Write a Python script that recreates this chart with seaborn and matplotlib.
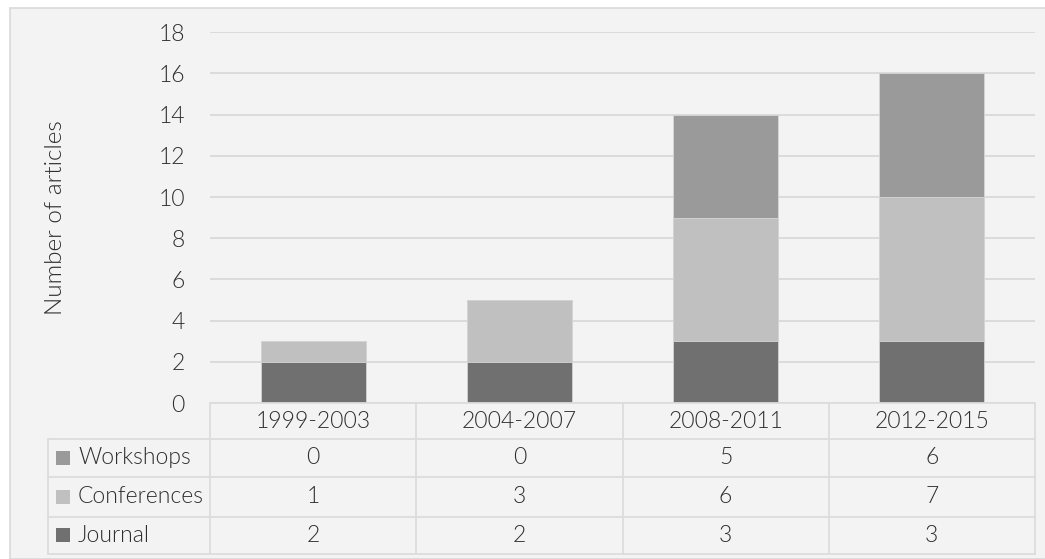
import numpy as np
import pandas as pd
import matplotlib
matplotlib.use('Agg')
import matplotlib.pyplot as plt
import seaborn as sns
from matplotlib.patches import Rectangle

# Data
periods = ['1999-2003', '2004-2007', '2008-2011', '2012-2015']
journal = [2, 2, 3, 3]
conferences = [1, 3, 6, 7]
workshops = [0, 0, 5, 6]
series = ['Workshops', 'Conferences', 'Journal']
colors = {'Workshops': '#9a9a9a', 'Conferences': '#c0c0c0', 'Journal': '#707070'}

df = pd.DataFrame({'period': periods, 'Journal': journal,
                   'Conferences': conferences, 'Workshops': workshops})
# cumulative heights for stacking
df['top_jc'] = df['Journal'] + df['Conferences']
df['top_all'] = df['top_jc'] + df['Workshops']

sns.set_style('white')
plt.rcParams['font.family'] = ['Lato', 'DejaVu Sans']
txt = '#2e2e2e'
fs = 16.5
fw = 300

W, H = 1045, 559
fig = plt.figure(figsize=(W / 100, H / 100), dpi=100, facecolor='white')
fig.patches.append(Rectangle((10 / W, 0), 1, 1 - 8 / H, transform=fig.transFigure,
                             facecolor='#f3f3f3', edgecolor='#d9d9d9', lw=1.2, zorder=-5))

# plot area in pixels
x0, x1 = 210, 1035
y_top, y_base = 32.3, 403
ax = fig.add_axes([x0 / W, 1 - y_base / H, (x1 - x0) / W, (y_base - y_top) / H])
ax.patch.set_alpha(0)

for col, key in [('top_all', 'Workshops'), ('top_jc', 'Conferences'), ('Journal', 'Journal')]:
    sns.barplot(data=df, x='period', y=col, color=colors[key], width=0.51,
                saturation=1, edgecolor='#d6d6d6', linewidth=0.6, ax=ax, zorder=3)

ax.set_xlim(-0.5, 3.5)
ax.set_ylim(0, 18)
ax.set_yticks(range(0, 19, 2))
ax.yaxis.grid(True, color='#d9d9d9', lw=1.3, zorder=0)
ax.set_axisbelow(True)
ax.tick_params(axis='y', length=0, pad=18, labelsize=fs, labelcolor=txt)
ax.set_xticks([])
ax.set_xlabel('')
ax.set_ylabel('Number of articles', fontsize=17.5, color=txt)
ax.yaxis.set_label_coords((66 - x0) / (x1 - x0), 0.5)
for lab in ax.get_yticklabels():
    lab.set_fontweight(fw)
ax.yaxis.label.set_fontweight(fw)
sns.despine(ax=ax, left=True, bottom=True, top=True, right=True)

# data table under the plot
tx0, ty1 = 48, 554
unit = (x1 - x0) / len(periods)
tab = fig.add_axes([tx0 / W, 1 - ty1 / H, (x1 - tx0) / W, (ty1 - y_base) / H])
tab.set_xlim(-0.5 - (x0 - tx0) / unit, len(periods) - 0.5)
tab.set_ylim(ty1, y_base)
tab.axis('off')
left = -0.5 - (x0 - tx0) / unit
rows = [403, 439.3, 476.7, 516.7, 554]
lc = '#dcdcdc'
lw = 1.3
tab.plot([-0.5, 3.5], [rows[0], rows[0]], color=lc, lw=lw, clip_on=False)
for r in rows[1:]:
    tab.plot([left, 3.5], [r, r], color=lc, lw=lw, clip_on=False)
tab.plot([left, left], [rows[1], rows[-1]], color=lc, lw=lw, clip_on=False)
for b in np.arange(-0.5, 4.0, 1.0):
    tab.plot([b, b], [rows[0], rows[-1]], color=lc, lw=lw, clip_on=False)

for i, p in enumerate(periods):
    tab.text(i, (rows[0] + rows[1]) / 2, p, ha='center', va='center',
             fontsize=fs, color=txt, fontweight=fw)
for j, key in enumerate(series):
    yc = (rows[j + 1] + rows[j + 2]) / 2
    vals = df[key].tolist()
    for i, v in enumerate(vals):
        tab.text(i, yc, str(v), ha='center', va='center', fontsize=fs,
                 color=txt, fontweight=fw)
    sq = 14 / unit
    tab.add_patch(Rectangle((left + 8 / unit, yc - 7), sq, 14,
                            facecolor=colors[key], edgecolor='none', clip_on=False))
    tab.text(left + 30 / unit, yc, key, ha='left', va='center', fontsize=fs,
             color=txt, fontweight=fw)

fig.savefig('out.png', dpi=100, facecolor=fig.get_facecolor())
